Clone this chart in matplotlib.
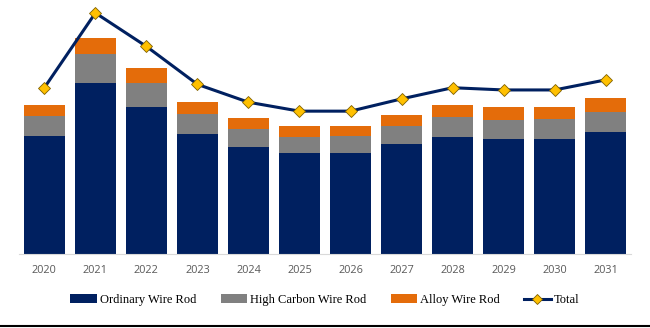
import matplotlib
matplotlib.use("Agg")
import matplotlib.pyplot as plt
import numpy as np
from matplotlib.lines import Line2D

years = ["2020", "2021", "2022", "2023", "2024", "2025",
         "2026", "2027", "2028", "2029", "2030", "2031"]
ordinary = [11.8, 17.1, 14.7, 12.0, 10.7, 10.1, 10.1, 11.0, 11.7, 11.5, 11.5, 12.2]
high_carbon = [2.0, 2.9, 2.4, 2.0, 1.8, 1.6, 1.7, 1.8, 2.0, 1.9, 2.0, 2.0]
alloy = [1.1, 1.6, 1.5, 1.2, 1.1, 1.1, 1.0, 1.1, 1.2, 1.3, 1.2, 1.4]

NAVY = "#002060"
GRAY = "#808080"
ORANGE = "#E46C0A"
GOLD = "#FFC000"

x = np.arange(len(years))
o = np.array(ordinary)
h = np.array(high_carbon)
a = np.array(alloy)
total = o + h + a

fig = plt.figure(figsize=(6.5, 3.28), dpi=100)
ax = fig.add_axes([0.029, 0.2256, 0.942, 0.7744])

b1 = ax.bar(x, o, 0.8, color=NAVY, label="Ordinary Wire Rod", zorder=2)
b2 = ax.bar(x, h, 0.8, bottom=o, color=GRAY, label="High Carbon Wire Rod", zorder=2)
b3 = ax.bar(x, a, 0.8, bottom=o + h, color=ORANGE, label="Alloy Wire Rod", zorder=2)
ax.set_xlim(-0.5, len(years) - 0.5)
ax.set_ylim(0, 25.4)
ax.set_yticks([])
for s in ["top", "right", "left"]:
    ax.spines[s].set_visible(False)
ax.spines["bottom"].set_color("#D9D9D9")
ax.spines["bottom"].set_linewidth(0.8)
ax.set_xticks(x)
ax.set_xticklabels(years, fontsize=7.8, color="#595959", family="Open Sans")
ax.tick_params(axis="x", length=0, pad=8)

# total on a secondary scale so the line sits above the stacks
ax2 = ax.twinx()
ln, = ax2.plot(x, total, color=NAVY, lw=2.2, marker="D", ms=6.5,
               mfc=GOLD, mec="#7F6000", mew=0.6, label="Total", zorder=3)
ax2.set_ylim(0, 25.4 / 1.116)
ax2.set_yticks([])
for s in ax2.spines.values():
    s.set_visible(False)

fig.legend([b1, b2, b3, ln],
           ["Ordinary Wire Rod", "High Carbon Wire Rod", "Alloy Wire Rod", "Total"],
           loc="center", bbox_to_anchor=(0.5, 1 - 300 / 328), ncol=4, frameon=False,
           prop={"family": "Liberation Serif", "size": 9},
           handlelength=2.15, handleheight=0.7, handletextpad=0.25, columnspacing=1.9,
           markerscale=0.8)

fig.add_artist(Line2D([0, 1], [1 - 326 / 328] * 2, color="black", lw=1.5,
                      transform=fig.transFigure))

fig.savefig("out.png", dpi=100)
